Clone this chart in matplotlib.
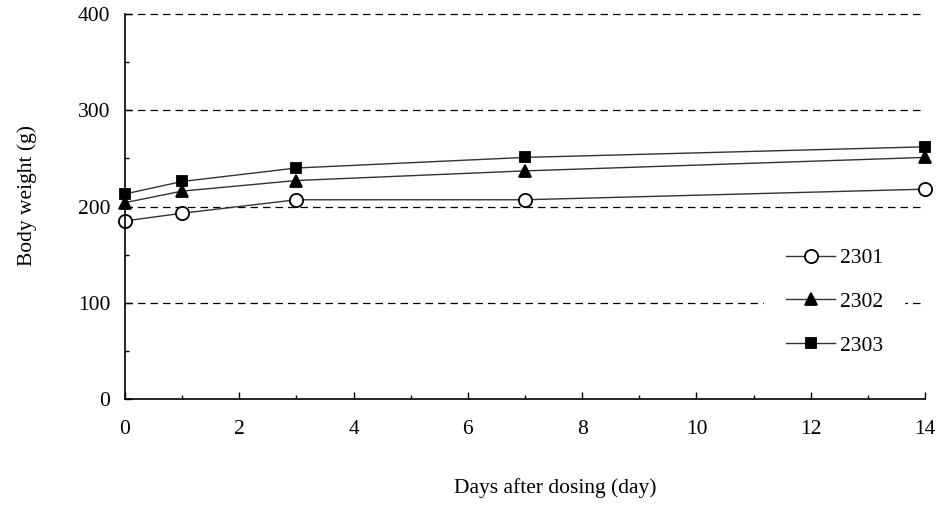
import matplotlib
matplotlib.use("Agg")
import matplotlib.pyplot as plt
from matplotlib.ticker import MultipleLocator

# ---------------- datos ----------------
days = [0, 1, 3, 7, 14]
bw_2301 = [185, 193, 207, 207, 218]
bw_2302 = [204, 216, 227, 237, 251]
bw_2303 = [213, 226, 240, 251, 262]
series_labels = ["2301", "2302", "2303"]

plt.rcParams['font.family'] = ['Liberation Serif', 'DejaVu Serif']
FS = 15.5

fig = plt.figure(figsize=(9.51, 5.07), dpi=100)
ax = fig.add_axes([0.1314, 0.213, 0.8413, 0.7594])

line_kw = dict(color='#333333', linewidth=1.0, markeredgecolor='black', markeredgewidth=1.3)
ax.plot(days, bw_2301, marker='o', markersize=9.5, markerfacecolor='white', label=series_labels[0], **line_kw)
ax.plot(days, bw_2302, marker='^', markersize=9, markerfacecolor='black', label=series_labels[1], **line_kw)
ax.plot(days, bw_2303, marker='s', markersize=7.5, markerfacecolor='black', label=series_labels[2], **line_kw)

# lineas horizontales discontinuas
for yv in [100, 200, 300, 400]:
    ax.axhline(yv, color='black', linewidth=0.9, dashes=(6, 4), zorder=0)

ax.set_xlim(0, 14)
ax.set_ylim(0, 400)
ax.xaxis.set_major_locator(MultipleLocator(2))
ax.xaxis.set_minor_locator(MultipleLocator(1))
ax.yaxis.set_major_locator(MultipleLocator(100))
ax.yaxis.set_minor_locator(MultipleLocator(50))
ax.tick_params(which='both', direction='in', labelsize=FS)
ax.tick_params(which='major', length=5, width=1)
ax.tick_params(which='minor', length=3, width=1)
ax.tick_params(axis='x', which='major', pad=15)
ax.tick_params(axis='y', which='major', pad=10.5)

ax.spines['top'].set_visible(False)
ax.spines['right'].set_visible(False)
ax.spines['left'].set_linewidth(1.2)
ax.spines['bottom'].set_linewidth(1.2)
for sp in ax.spines.values():
    sp.set_clip_on(False)
for ln in ax.lines:
    ln.set_clip_on(False)

leg = ax.legend(loc='center left', bbox_to_anchor=(0.799, 0.252), frameon=True,
                fontsize=FS, handlelength=2.3, handletextpad=0.2, labelspacing=1.1,
                borderpad=1.0, borderaxespad=0, fancybox=False)
leg.get_frame().set_edgecolor('white')
leg.get_frame().set_facecolor('white')
leg.get_frame().set_alpha(1.0)

fig.text(0.029, 0.615, "Body weight (g)", rotation=90, ha='center', va='center', fontsize=FS)
fig.text(0.5836, 0.037, "Days after dosing (day)", ha='center', va='center', fontsize=FS)

fig.savefig("out.png", dpi=100)
